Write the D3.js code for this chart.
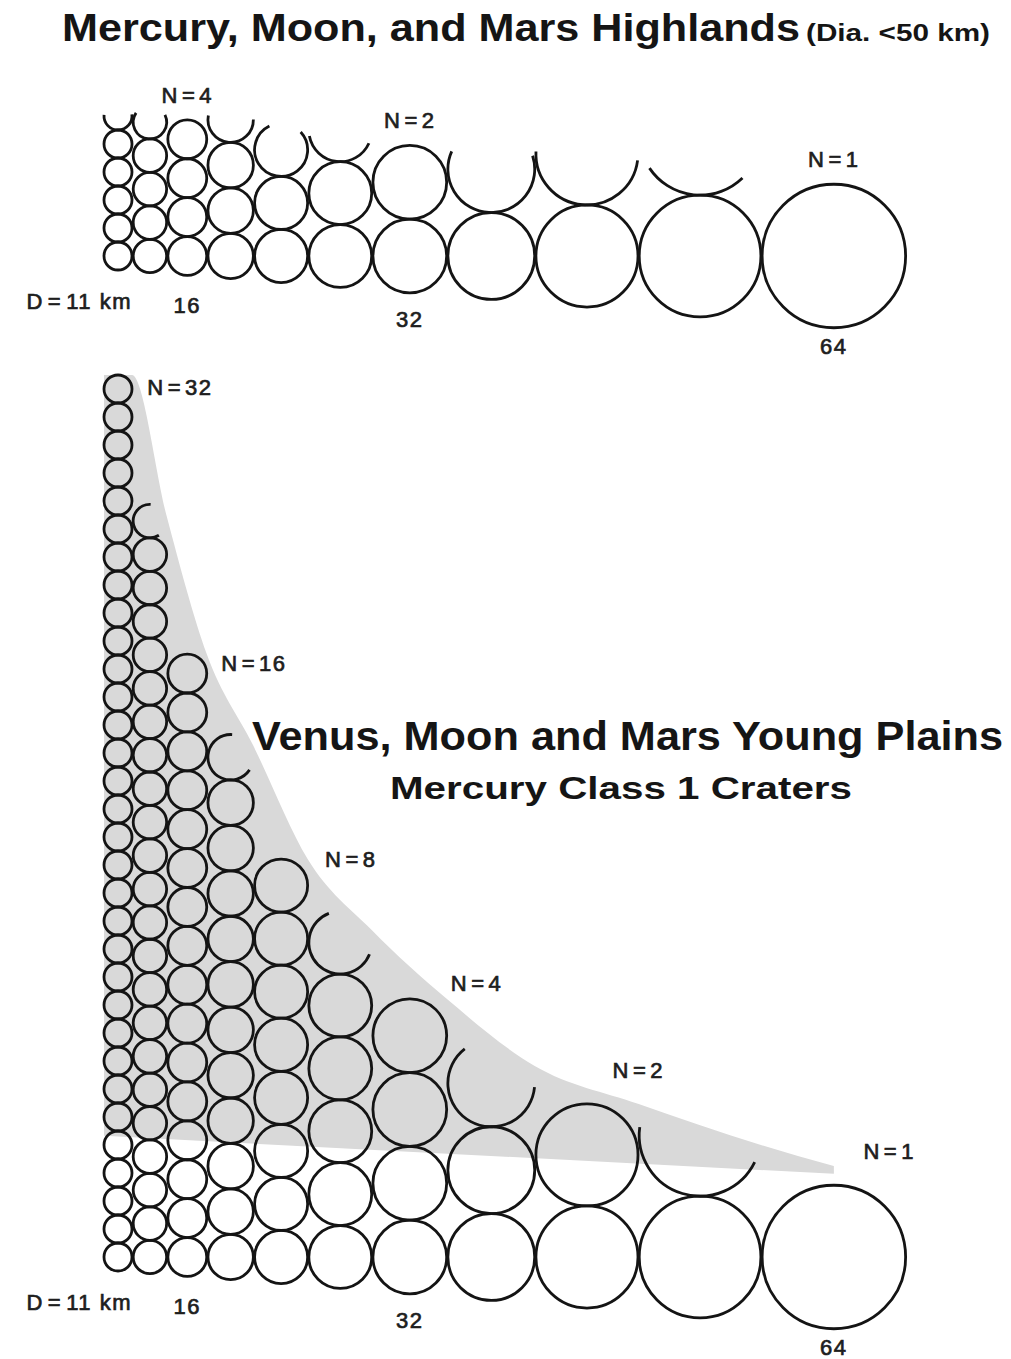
<!DOCTYPE html>
<html>
<head>
<meta charset="utf-8">
<script src="https://cdn.jsdelivr.net/npm/d3@7"></script>
<style>
  body { margin: 0; background: #fff; }
  text { font-family: "Liberation Sans", Arial, Helvetica, sans-serif; fill: #151515; }
  .lbl { stroke: #1e1e1e; stroke-width: 0.7px; fill: #1e1e1e; }
</style>
</head>
<body>
<svg id="chart" width="1011" height="1359"></svg>
<script>
// crater diameter bins (km), one column of circles per bin
var diameterKm = [11, 13.5, 16, 19, 22.5, 27, 32, 38, 45, 54, 64];
// number of craters per bin (fractional part = partial circle on top)
var highlandsN = [5.55, 4.75, 4, 3.55, 2.9, 2.35, 2, 1.68, 1.48, 1.18, 1];
var plainsN = [32, 22.65, 16, 11.75, 8, 5.7, 4, 2.7, 2, 1.42, 1];
// diameter tick labels
var tickKm = [11, 16, 32, 64];
var tickText = ["D=11 km", "16", "32", "64"];
// lower edge of the grey band (N level at the first and last bin)
var shadeFloorKm = [11, 64];
var shadeFloorN = [4.8, 1.08];

var svg = d3.select("#chart");
svg.append("rect").attr("width", 1011).attr("height", 1359).attr("fill", "#fff");

// circle diameter in px for a crater diameter in km
var size = d3.scaleLinear().domain([11, 64]).range([28, 143.5]);
var left = 118, gap = 1.2;
var colX = [];
diameterKm.forEach(function(D, i) {
  colX.push(i === 0 ? left : colX[i - 1] + (size(diameterKm[i - 1]) + size(D)) / 2 + gap);
});
var xOf = d3.scaleOrdinal().domain(diameterKm).range(colX);

function nearestBin(km) {
  return d3.least(diameterKm.map(function(D, i) { return i; }), function(i) {
    return Math.abs(Math.log(diameterKm[i]) - Math.log(km));
  });
}

function columns(counts, base) {
  var cols = diameterKm.map(function(D, i) {
    var d = size(D), N = counts[i];
    var full = Math.floor(N + 1e-6);
    return { D: D, N: N, d: d, r: d / 2, x: xOf(D), full: full, frac: N - full,
             top: base + d / 2 - N * d, ex: xOf(D) + d / 2 };
  });
  cols.forEach(function(c, i) {
    var a = cols[Math.max(0, i - 1)], b = cols[Math.min(cols.length - 1, i + 1)];
    c.slope = (b.top - a.top) / (b.ex - a.ex);
  });
  return cols;
}

var strokeCol = "#141414", strokeW = 2.8;

function drawColumns(g, cols, base) {
  cols.forEach(function(c) {
    g.selectAll(null).data(d3.range(c.full)).enter()
      .append("circle")
      .attr("cx", c.x)
      .attr("cy", function(j) { return base - j * c.d; })
      .attr("r", c.r)
      .attr("fill", "none")
      .attr("stroke", strokeCol)
      .attr("stroke-width", strokeW);

    if (c.frac > 0.02) {
      // partial crater cut by a chord that follows the slope of the envelope
      var len = Math.sqrt(c.slope * c.slope + 1);
      var phi = Math.atan2(-1 / len, c.slope / len);
      var half = Math.acos(2 * c.frac - 1);
      var p = d3.path();
      p.arc(c.x, base - c.full * c.d, c.r, phi + half, phi + 2 * Math.PI - half);
      g.append("path")
        .attr("d", p.toString())
        .attr("fill", "none")
        .attr("stroke", strokeCol)
        .attr("stroke-width", strokeW);
    }
  });
}

function eqLabel(t, name, value, sp) {
  t.append("tspan").text(name);
  t.append("tspan").attr("dx", sp).text("=");
  t.append("tspan").attr("dx", sp).text(value);
}

function drawTicks(g, cols, base) {
  tickKm.forEach(function(km, i) {
    var c = cols[nearestBin(km)];
    var t = g.append("text")
      .attr("class", "lbl")
      .attr("y", base + 0.78 * c.r + 42)
      .attr("font-size", 22)
      .attr("letter-spacing", 1.5);
    if (i === 0) {
      t.attr("x", c.x + c.r).attr("text-anchor", "end");
      var parts = tickText[i].split("=");
      eqLabel(t, parts[0], parts[1], 4);
    } else {
      t.attr("x", c.x).attr("text-anchor", "middle").text(tickText[i]);
    }
  });
}

// ---------- top panel: highlands ----------
var topBase = 256;
var gTop = svg.append("g");
var topCols = columns(highlandsN, topBase);
drawColumns(gTop, topCols, topBase);
drawTicks(gTop, topCols, topBase);

topCols.filter(function(c) { return c.frac < 0.02; }).forEach(function(c) {
  var t = gTop.append("text")
    .attr("class", "lbl")
    .attr("x", c.x)
    .attr("y", c.top - 17)
    .attr("text-anchor", "middle")
    .attr("font-size", 22)
    .attr("letter-spacing", 1.5);
  eqLabel(t, "N", c.full, 3);
});

svg.append("text")
  .attr("x", 62).attr("y", 41)
  .attr("font-size", 39).attr("font-weight", "bold")
  .attr("textLength", 738).attr("lengthAdjust", "spacingAndGlyphs")
  .text("Mercury, Moon, and Mars Highlands");
svg.append("text")
  .attr("x", 806).attr("y", 41)
  .attr("font-size", 23).attr("font-weight", "bold")
  .attr("textLength", 184).attr("lengthAdjust", "spacingAndGlyphs")
  .text("(Dia. <50 km)");

// ---------- bottom panel: young plains ----------
var botBase = 1257;
var gBot = svg.append("g");
var botCols = columns(plainsN, botBase);
var first = botCols[0], last = botCols[botCols.length - 1];

// region below the envelope of the column tops
var envPts = [{ ex: first.x - first.r, top: first.top }].concat(botCols);
var under = d3.area()
  .x(function(c) { return c.ex; })
  .y0(1359)
  .y1(function(c) { return c.top; })
  .curve(d3.curveMonotoneX);
svg.append("defs").append("clipPath").attr("id", "under-env")
  .append("path").attr("d", under(envPts));

// grey band between envelope and the floor line
var fa = botCols[nearestBin(shadeFloorKm[0])], fb = botCols[nearestBin(shadeFloorKm[1])];
var floorY = d3.scaleLinear()
  .domain([fa.x, fb.x])
  .range([botBase + fa.r - shadeFloorN[0] * fa.d, botBase + fb.r - shadeFloorN[1] * fb.d]);
var x1 = first.x - first.r, x2 = last.x;
gBot.append("path")
  .attr("d", "M" + x1 + "," + (first.top - 20) + "L" + x2 + "," + (first.top - 20) +
             "L" + x2 + "," + floorY(x2) + "L" + x1 + "," + floorY(x1) + "Z")
  .attr("fill", "#d9d9d9")
  .attr("clip-path", "url(#under-env)");

drawColumns(gBot, botCols, botBase);
drawTicks(gBot, botCols, botBase);

botCols.filter(function(c) { return c.frac < 0.02; }).forEach(function(c) {
  var a = (90 - Math.atan(c.slope) * 180 / Math.PI - 12) * Math.PI / 180;
  var cy = botBase - (c.full - 1) * c.d;
  var dist = c.r + 48;
  var t = gBot.append("text")
    .attr("class", "lbl")
    .attr("x", c.x + dist * Math.cos(a))
    .attr("y", cy - dist * Math.sin(a))
    .attr("dy", "0.36em")
    .attr("text-anchor", "middle")
    .attr("font-size", 22)
    .attr("letter-spacing", 1.5);
  eqLabel(t, "N", c.full, 3);
});

svg.append("text")
  .attr("x", 252).attr("y", 750)
  .attr("font-size", 40).attr("font-weight", "bold")
  .attr("textLength", 751).attr("lengthAdjust", "spacingAndGlyphs")
  .text("Venus, Moon and Mars Young Plains");
svg.append("text")
  .attr("x", 390).attr("y", 799)
  .attr("font-size", 32).attr("font-weight", "bold")
  .attr("textLength", 462).attr("lengthAdjust", "spacingAndGlyphs")
  .text("Mercury Class 1 Craters");
</script>
</body>
</html>
